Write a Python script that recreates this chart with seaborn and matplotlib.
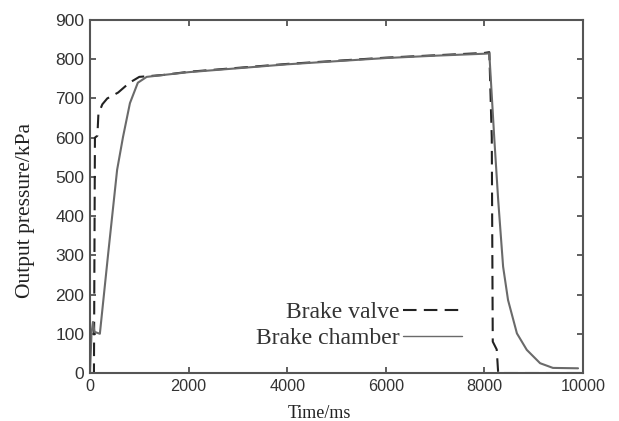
import pandas as pd
import matplotlib
matplotlib.use("Agg")
import matplotlib.pyplot as plt
import seaborn as sns

# brake valve output (dashed)
valve_t = [0, 80, 100, 150, 170, 250, 350, 570, 800, 1000, 1500, 2000, 3000,
           4000, 5000, 6000, 7000, 8000, 8100, 8150, 8170, 8250, 8280, 10000]
valve_p = [0, 0, 600, 605, 660, 685, 700, 715, 740, 755, 760, 768, 778,
           788, 796, 804, 810, 816, 818, 600, 80, 60, 0, 0]

# brake chamber pressure (solid)
chamber_t = [0, 30, 60, 90, 200, 370, 550, 670, 810, 970, 1150, 1500, 2000,
             3000, 4000, 5000, 6000, 7000, 8000, 8100, 8200, 8280, 8380,
             8480, 8660, 8860, 9130, 9390, 9900]
chamber_p = [0, 100, 130, 105, 100, 306, 518, 602, 688, 740, 755, 760, 767,
             777, 787, 795, 803, 809, 814, 815, 600, 441, 271,
             186, 101, 59, 25, 13, 12]

x_ticks = [0, 2000, 4000, 6000, 8000, 10000]
y_ticks = [0, 100, 200, 300, 400, 500, 600, 700, 800, 900]

df = pd.concat([
    pd.DataFrame({"t": valve_t, "p": valve_p, "series": "Brake valve"}),
    pd.DataFrame({"t": chamber_t, "p": chamber_p, "series": "Brake chamber"}),
])

sns.set_style("ticks")
plt.rcParams["font.family"] = ["Liberation Serif", "DejaVu Serif"]

fig = plt.figure(figsize=(6.19, 4.21), dpi=100)
ax = fig.add_axes([0.1454, 0.114, 0.7964, 0.8385])

sns.lineplot(data=df, x="t", y="p", hue="series", style="series",
             palette={"Brake valve": "#222222", "Brake chamber": "#6a6a6a"},
             dashes={"Brake valve": (6.5, 3.5), "Brake chamber": ""},
             sort=False, estimator=None, ax=ax, linewidth=1.5)
for ln in ax.get_lines():
    if ln.get_label() == "Brake chamber":
        ln.set_linewidth(1.0)
    elif ln.get_label() == "Brake valve":
        ln.set_zorder(3)

ax.set_xlim(0, 10000)
ax.set_ylim(0, 900)
ax.set_xticks(x_ticks)
ax.set_yticks(y_ticks)
ax.set_xticklabels([str(v) for v in x_ticks], family="Liberation Sans",
                   fontsize=11.7, color="#333333")
ax.set_yticklabels([str(v) for v in y_ticks], family="Liberation Sans",
                   fontsize=12.5, color="#333333")
ax.tick_params(direction="in", length=4, width=1.2, color="#444444",
               top=True, right=True, pad=4)
for s in ax.spines.values():
    s.set_visible(True)
    s.set_color("#555555")
    s.set_linewidth(1.5)

ax.set_xlabel("Time/ms", fontsize=13, color="#222222")
ax.set_ylabel("Output pressure/kPa", fontsize=15.5, color="#222222")
ax.xaxis.set_label_coords(0.465, -0.09)
ax.yaxis.set_label_coords(-0.112, 0.459)

handles, labels = ax.get_legend_handles_labels()
leg = ax.legend(handles, labels, loc="upper right", bbox_to_anchor=(0.755, 0.202),
                frameon=False, markerfirst=False, fontsize=17,
                handlelength=2.5, handletextpad=0.15, labelspacing=0.2,
                borderaxespad=0, borderpad=0)
for t in leg.get_texts():
    t.set_color("#333333")

fig.savefig("out.png", dpi=100)
